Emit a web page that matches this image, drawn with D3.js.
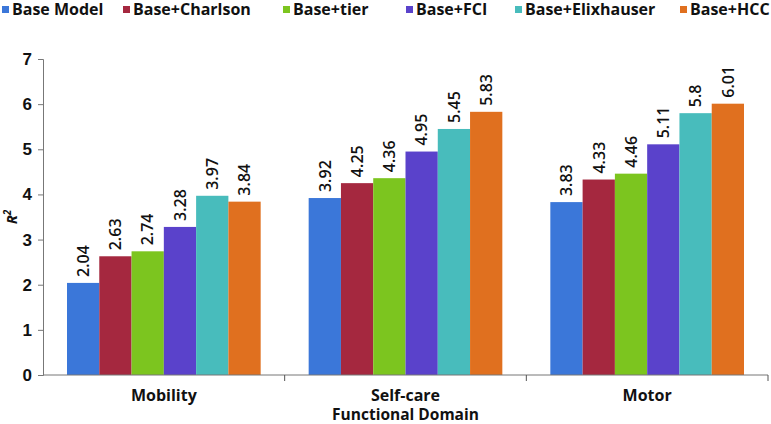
<!DOCTYPE html>
<html>
<head>
<meta charset="utf-8">
<script src="https://cdn.jsdelivr.net/npm/d3@7"></script>
<style>
  body { margin: 0; background: #fff; }
  svg { display: block; font-family: "Open Sans", sans-serif; font-weight: 700; }
</style>
</head>
<body>
<svg></svg>
<script>
// data
var domains = ["Mobility", "Self-care", "Motor"];
var models = ["Base Model", "Base+Charlson", "Base+tier", "Base+FCI", "Base+Elixhauser", "Base+HCC"];
var colors = ["#3b77d9", "#a5283f", "#7cc51f", "#5a42cb", "#48bcbc", "#e0701f"];
var mobility = [2.04, 2.63, 2.74, 3.28, 3.97, 3.84];
var selfCare = [3.92, 4.25, 4.36, 4.95, 5.45, 5.83];
var motor = [3.83, 4.33, 4.46, 5.11, 5.8, 6.01];
var yTicks = [0, 1, 2, 3, 4, 5, 6, 7];
var legendX = [2, 123, 283, 406, 515, 680];

var values = [mobility, selfCare, motor];

var width = 771;
var height = 424;
var plotLeft = 43, plotRight = 768, plotTop = 59, plotBottom = 375;

var svg = d3.select("svg")
            .attr("width", width)
            .attr("height", height);

var x0 = d3.scaleBand()
           .domain(domains)
           .range([plotLeft, plotRight]);

var x1 = d3.scaleBand()
           .domain(models)
           .range([24, x0.bandwidth() - 24]);

var y = d3.scaleLinear()
          .domain([0, 7])
          .range([plotBottom, plotTop]);

// bars
var groups = svg.selectAll("g.domain-group")
    .data(domains)
    .enter()
    .append("g")
    .attr("class", "domain-group")
    .attr("transform", d => "translate(" + x0(d) + ",0)");

groups.selectAll("rect")
    .data((d, i) => values[i].map((v, j) => ({model: models[j], value: v, color: colors[j]})))
    .enter()
    .append("rect")
      .attr("x", d => x1(d.model))
      .attr("y", d => y(d.value))
      .attr("width", x1.bandwidth())
      .attr("height", d => y(0) - y(d.value))
      .attr("fill", d => d.color);

groups.selectAll("text")
    .data((d, i) => values[i].map((v, j) => ({model: models[j], value: v})))
    .enter()
    .append("text")
      .attr("transform", d => "translate(" + (x1(d.model) + x1.bandwidth() / 2) + "," + (y(d.value) - 6) + ") rotate(-90)")
      .attr("dy", "0.36em")
      .style("font-size", "16px")
      .style("font-weight", 600)
      .attr("fill", "#111")
      .text(d => d.value);

// y axis
var yAxis = svg.append("g")
    .attr("transform", "translate(" + plotLeft + ",0)")
    .call(d3.axisLeft(y).tickValues(yTicks).tickFormat(d3.format("d")).tickSize(5).tickPadding(6));
yAxis.selectAll("text").style("font-size", "17px").style("font-weight", 700).attr("fill", "#111");
yAxis.selectAll("line, path").attr("stroke", "#777");

// x axis: line and separator ticks at band edges
var xAxis = svg.append("g")
    .attr("transform", "translate(0," + plotBottom + ")");
xAxis.append("line")
    .attr("x1", plotLeft).attr("x2", plotRight)
    .attr("stroke", "#777");
xAxis.selectAll("line.sep")
    .data(domains)
    .enter()
    .append("line")
      .attr("class", "sep")
      .attr("x1", d => x0(d) + x0.bandwidth())
      .attr("x2", d => x0(d) + x0.bandwidth())
      .attr("y1", 0).attr("y2", 6)
      .attr("stroke", "#555");
xAxis.selectAll("text")
    .data(domains)
    .enter()
    .append("text")
      .attr("x", d => x0(d) + x0.bandwidth() / 2)
      .attr("y", 26)
      .style("text-anchor", "middle")
      .style("font-size", "16px")
      .attr("fill", "#111")
      .text(d => d);

svg.append("text")
    .attr("x", x0("Self-care") + x0.bandwidth() / 2)
    .attr("y", 420)
    .style("text-anchor", "middle")
    .style("font-size", "15.5px")
    .attr("fill", "#111")
    .text("Functional Domain");

svg.append("text")
    .attr("transform", "translate(17," + y(3.5) + ") rotate(-90)")
    .style("text-anchor", "middle")
    .style("font-size", "15px")
    .style("font-style", "italic")
    .attr("fill", "#111")
    .html("R<tspan dy='-6' font-size='10px'>2</tspan>");

// legend
var legend = svg.selectAll("g.legend")
    .data(models)
    .enter()
    .append("g")
    .attr("class", "legend")
    .attr("transform", (d, i) => "translate(" + legendX[i] + ",0)");

legend.append("rect")
    .attr("x", 0).attr("y", 6)
    .attr("width", 7).attr("height", 7)
    .attr("fill", (d, i) => colors[i]);

legend.append("text")
    .attr("x", 10)
    .attr("y", 15)
    .style("font-size", "16px")
    .attr("fill", "#111")
    .text(d => d);
</script>
</body>
</html>
